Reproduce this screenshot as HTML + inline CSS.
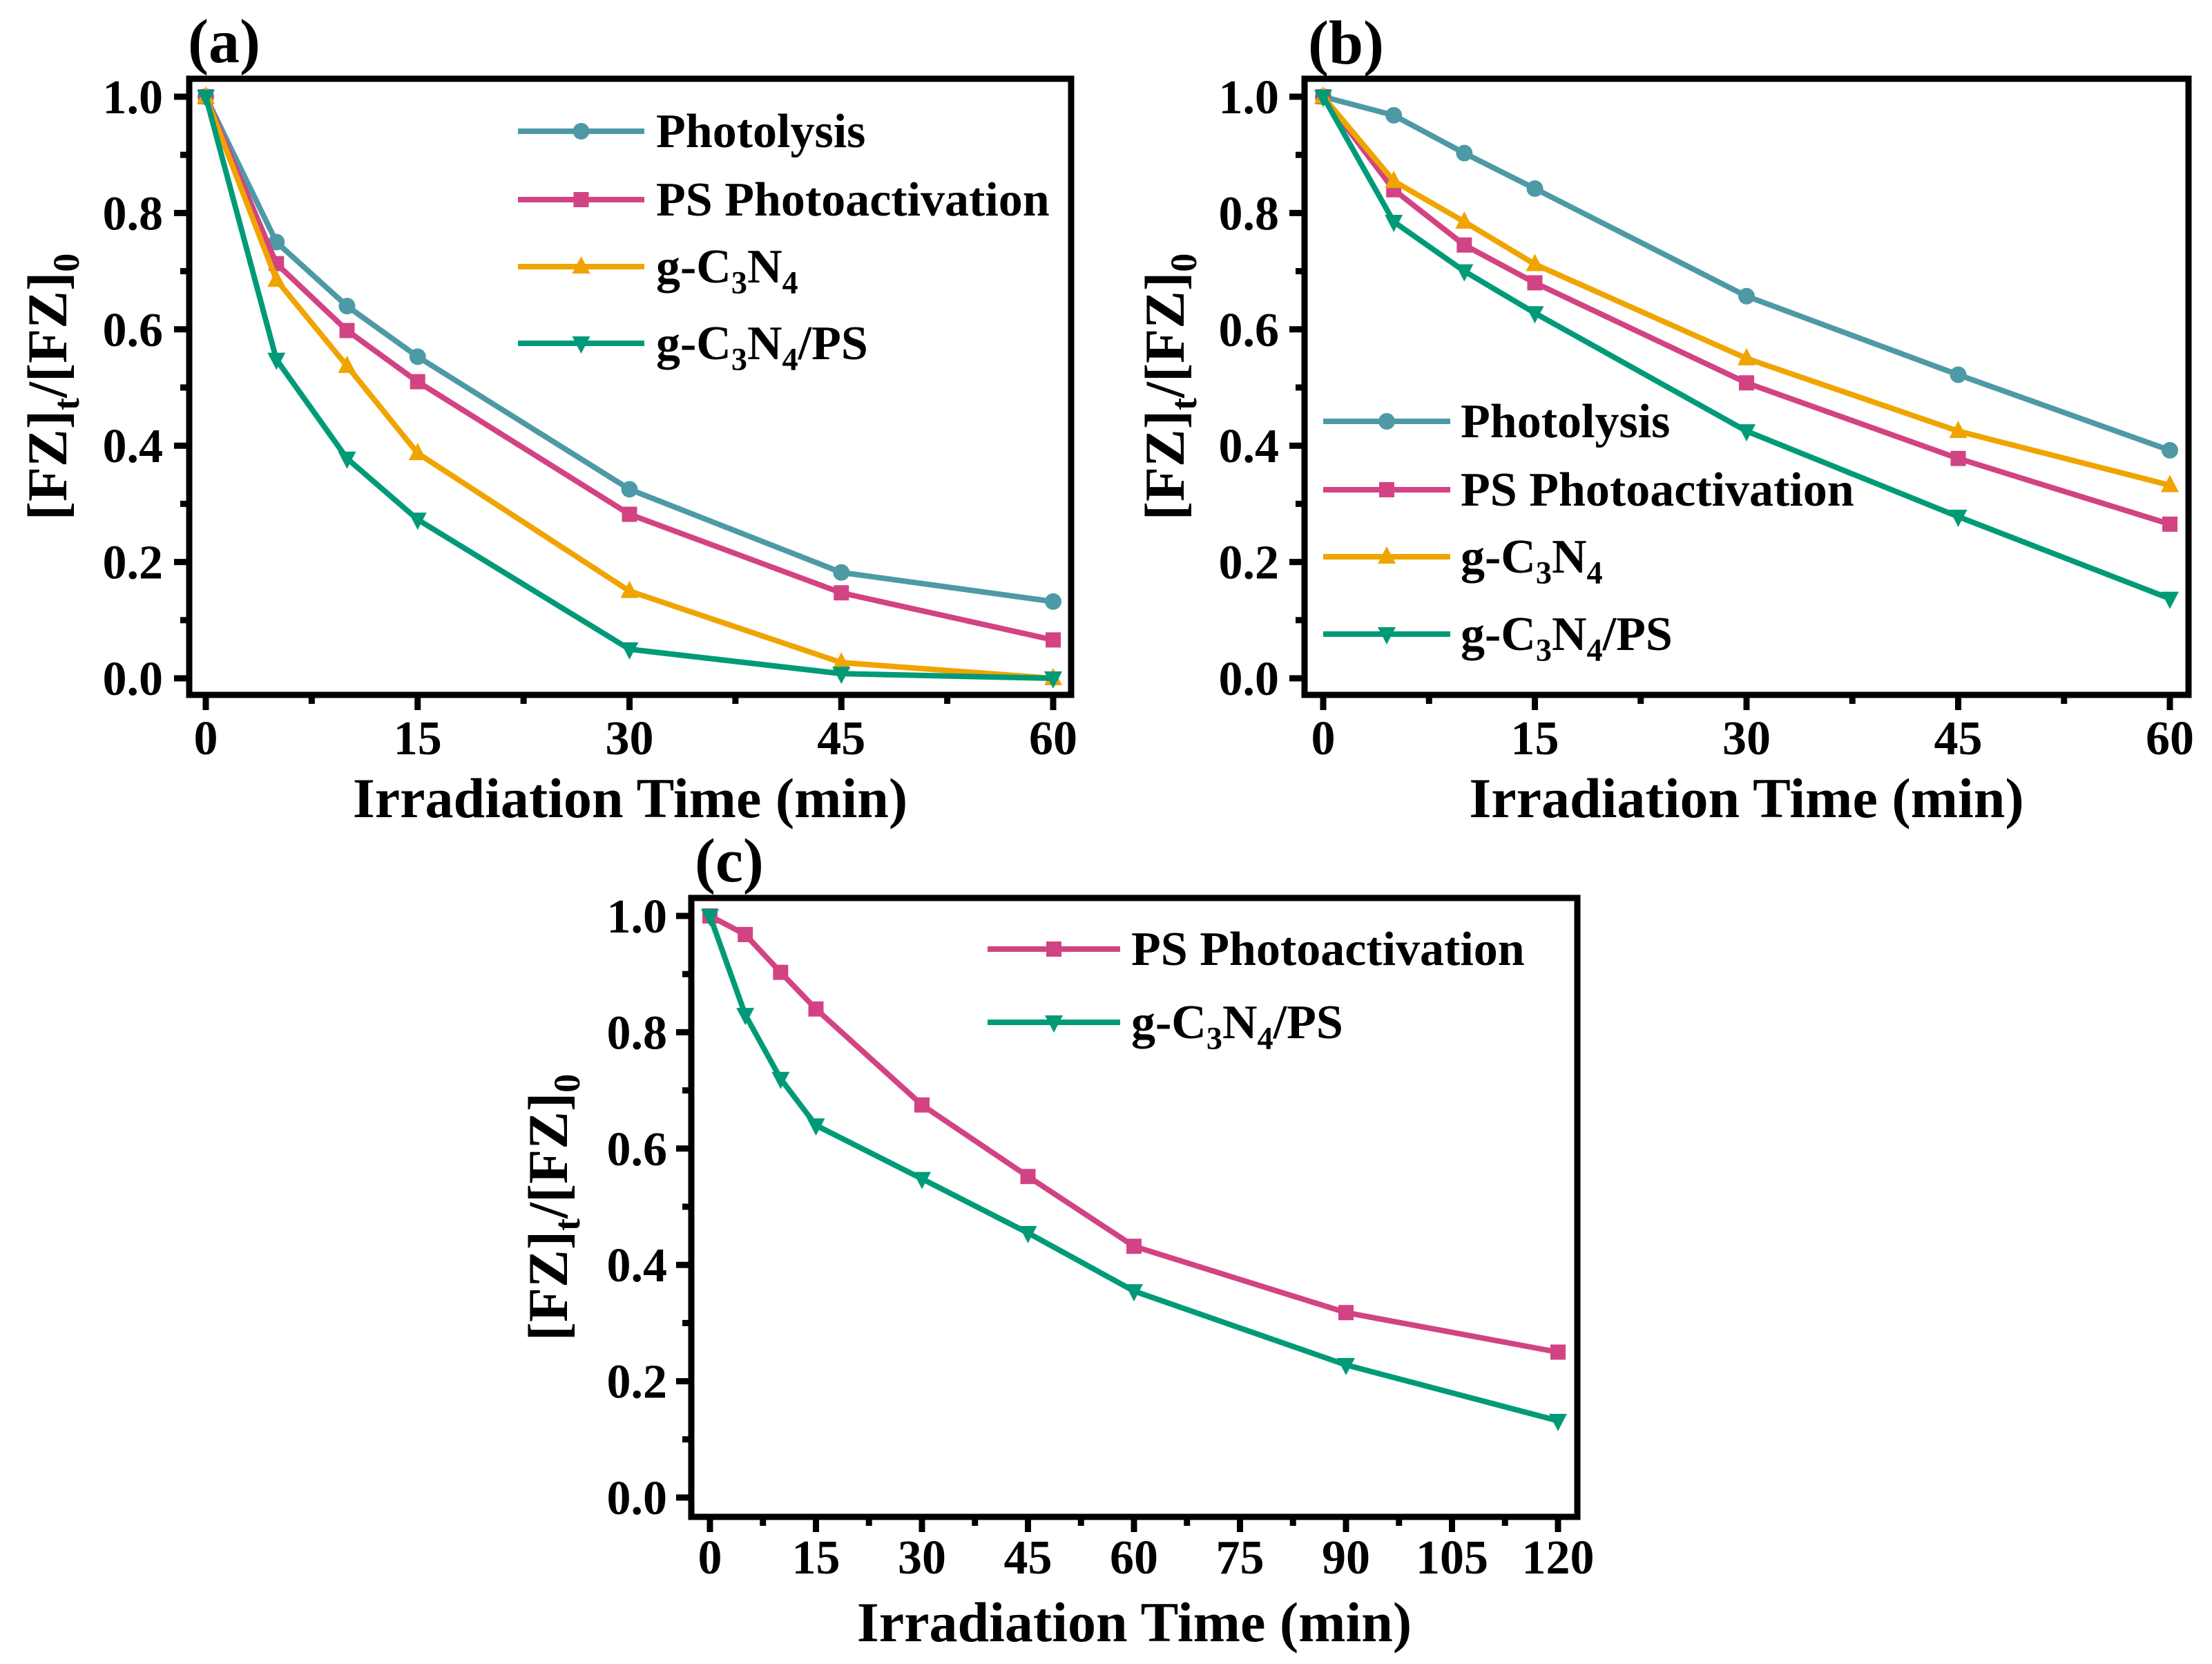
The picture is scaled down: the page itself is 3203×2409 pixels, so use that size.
<!DOCTYPE html>
<html><head><meta charset="utf-8"><style>
html,body{margin:0;padding:0;background:#fff;}
svg{display:block;font-family:"Liberation Serif",serif;font-weight:bold;}
</style></head><body>
<svg id="fig" xmlns="http://www.w3.org/2000/svg" width="3203" height="2409" viewBox="0 0 3203 2409"></svg>
<script>
// ---- data ----
const xA = [0, 5, 10, 15, 30, 45, 60];
const aPhotolysis = [1, 0.75, 0.64, 0.553, 0.325, 0.182, 0.132];
const aPS = [1, 0.713, 0.598, 0.51, 0.282, 0.147, 0.066];
const aGCN = [1, 0.685, 0.537, 0.387, 0.15, 0.027, 0.0];
const aGCNPS = [1, 0.548, 0.378, 0.273, 0.05, 0.008, 0.0];
const xB = [0, 5, 10, 15, 30, 45, 60];
const bPhotolysis = [1, 0.968, 0.903, 0.842, 0.657, 0.522, 0.392];
const bPS = [1, 0.84, 0.745, 0.68, 0.508, 0.378, 0.265];
const bGCN = [1, 0.855, 0.785, 0.712, 0.55, 0.425, 0.332];
const bGCNPS = [1, 0.785, 0.7, 0.628, 0.425, 0.278, 0.137];
const xC = [0, 5, 10, 15, 30, 45, 60, 90, 120];
const cPS = [1, 0.968, 0.903, 0.84, 0.675, 0.552, 0.432, 0.318, 0.25];
const cGCNPS = [1, 0.83, 0.72, 0.64, 0.548, 0.455, 0.355, 0.228, 0.132];
const xTicks60 = [0, 15, 30, 45, 60];
const xTicks120 = [0, 15, 30, 45, 60, 75, 90, 105, 120];
const yTicks = [0, 0.2, 0.4, 0.6, 0.8, 1.0];
const yTickLabels = ["0.0", "0.2", "0.4", "0.6", "0.8", "1.0"];

const COL = {photo:"#4d9aa6", ps:"#d24384", gcn:"#f0a400", gcnps:"#009a78"};
const NS = "http://www.w3.org/2000/svg";
const svg = document.getElementById("fig");
function mk(tag, attrs, parent){
  const e = document.createElementNS(NS, tag);
  for (const k in attrs) e.setAttribute(k, attrs[k]);
  (parent||svg).appendChild(e);
  return e;
}
function marker(g, type, cx, cy, color){
  let m;
  if (type==="circle") m = mk("circle",{cx:cx,cy:cy,r:12,fill:color},g);
  else if (type==="square") m = mk("rect",{x:cx-11,y:cy-11,width:22,height:22,fill:color},g);
  else if (type==="up") m = mk("polygon",{points:`${cx},${cy-15} ${cx-13},${cy+10} ${cx+13},${cy+10}`,fill:color},g);
  else m = mk("polygon",{points:`${cx},${cy+15} ${cx-13},${cy-10} ${cx+13},${cy-10}`,fill:color},g);
  
  
  return m;
}
function labelText(parent, x, y, size, parts, anchor, name){
  const t = mk("text",{x:x,y:y,"font-size":size,"text-anchor":anchor||"start",fill:"#000"},parent);
  
  
  parts.forEach(p=>{
    const s = mk("tspan",{},t);
    if (p.sub){ s.setAttribute("font-size", size*0.66); s.setAttribute("dy", size*0.22); }
    else if (p.back){ s.setAttribute("dy", -size*0.22); }
    s.textContent = p.t;
  });
  return t;
}
const legendParts = {
  photo:[{t:"Photolysis"}],
  ps:[{t:"PS Photoactivation"}],
  gcn:[{t:"g-C"},{t:"3",sub:1},{t:"N",back:1},{t:"4",sub:1}],
  gcnps:[{t:"g-C"},{t:"3",sub:1},{t:"N",back:1},{t:"4",sub:1},{t:"/PS",back:1}]
};
function panel(p){
  const g = mk("g",{});
  
  
  const sx = v => p.x0 + (v - 0) / (p.xmax) * (p.x1 - p.x0);
  const sy = v => p.y0 + v * (p.y1 - p.y0);
  p.series.forEach(s=>{
    const sg = mk("g",{},g);
    
    
    const pts = s.ys.map((v,i)=>sx(p.xs[i])+","+sy(v)).join(" ");
    const pl = mk("polyline",{points:pts,fill:"none",stroke:COL[s.key],"stroke-width":8,"stroke-linejoin":"round"},sg);
    
    
    s.ys.forEach((v,i)=>marker(sg, s.m, sx(p.xs[i]), sy(v), COL[s.key]));
  });
  const fr = mk("rect",{x:p.bl,y:p.bt,width:p.br-p.bl,height:p.bb-p.bt,fill:"none",stroke:"#000","stroke-width":9},g);
  
  
  yTicks.forEach((v,i)=>{
    const y = sy(v);
    mk("line",{x1:p.bl-22,x2:p.bl,y1:y,y2:y,stroke:"#000","stroke-width":9},g);
    const t = mk("text",{x:p.ylx,y:y+24,"font-size":70,"text-anchor":"end"},g);
    
    
    t.textContent = yTickLabels[i];
    if (i < yTicks.length-1){
      const ym = sy(v+0.1);
      mk("line",{x1:p.bl-13,x2:p.bl,y1:ym,y2:ym,stroke:"#000","stroke-width":9},g);
    }
  });
  p.xticks.forEach((v,i)=>{
    const x = sx(v);
    mk("line",{x1:x,x2:x,y1:p.bb,y2:p.bb+22,stroke:"#000","stroke-width":9},g);
    const t = mk("text",{x:x,y:p.xly,"font-size":70,"text-anchor":"middle"},g);
    
    
    t.textContent = v;
    if (i < p.xticks.length-1){
      const xm = sx(v+7.5);
      mk("line",{x1:xm,x2:xm,y1:p.bb,y2:p.bb+13,stroke:"#000","stroke-width":9},g);
    }
  });
  const xt = mk("text",{x:(p.bl+p.br)/2,y:p.xty,"font-size":82,"text-anchor":"middle"},g);
  
  
  xt.textContent = "Irradiation Time (min)";
  const cy = (p.bt+p.bb)/2;
  const yg = mk("g",{transform:`translate(${p.ytx},${cy}) rotate(-90)`},g);
  labelText(yg, 0, 28, 82, [{t:"[FZ]"},{t:"t",sub:1},{t:"/[FZ]",back:1},{t:"0",sub:1}], "middle", "y-axis-title");
  labelText(g, p.plx, p.ply, 90, [{t:p.tag}], "start", "panel-label");
  p.legend.forEach((k,i)=>{
    const lg = mk("g",{},g);
    
    
    const y = p.legY[i];
    mk("line",{x1:p.legX1,x2:p.legX2,y1:y,y2:y,stroke:COL[k],"stroke-width":8},lg);
    const m = p.series.find(s=>s.key===k).m;
    marker(lg, m, (p.legX1+p.legX2)/2, y, COL[k]);
    labelText(lg, p.legTX, y+23, 70, legendParts[k], "start", "legend-label");
  });
}
panel({name:"panel-a",tag:"(a)",xs:xA,xmax:60,xticks:xTicks60,
  x0:298,x1:1525,y0:982,y1:140,bl:274,br:1551,bt:114,bb:1006,
  ylx:236,xly:1092,xty:1183,ytx:68,plx:272,ply:90,
  series:[{key:"photo",ys:aPhotolysis,m:"circle"},{key:"ps",ys:aPS,m:"square"},{key:"gcn",ys:aGCN,m:"up"},{key:"gcnps",ys:aGCNPS,m:"down"}],
  legend:["photo","ps","gcn","gcnps"],legY:[190,289,386,497],legX1:750,legX2:933,legTX:950});
panel({name:"panel-b",tag:"(b)",xs:xB,xmax:60,xticks:xTicks60,
  x0:1916,x1:3142,y0:982,y1:140,bl:1889,br:3169,bt:114,bb:1006,
  ylx:1852,xly:1092,xty:1183,ytx:1686,plx:1894,ply:92,
  series:[{key:"photo",ys:bPhotolysis,m:"circle"},{key:"ps",ys:bPS,m:"square"},{key:"gcn",ys:bGCN,m:"up"},{key:"gcnps",ys:bGCNPS,m:"down"}],
  legend:["photo","ps","gcn","gcnps"],legY:[610,709,806,918],legX1:1916,legX2:2100,legTX:2115});
panel({name:"panel-c",tag:"(c)",xs:xC,xmax:120,xticks:xTicks120,
  x0:1028,x1:2256,y0:2168,y1:1326,bl:1001,br:2284,bt:1300,bb:2196,
  ylx:966,xly:2278,xty:2376,ytx:793,plx:1006,ply:1276,
  series:[{key:"ps",ys:cPS,m:"square"},{key:"gcnps",ys:cGCNPS,m:"down"}],
  legend:["ps","gcnps"],legY:[1374,1480],legX1:1430,legX2:1622,legTX:1638});
</script>
</body></html>
